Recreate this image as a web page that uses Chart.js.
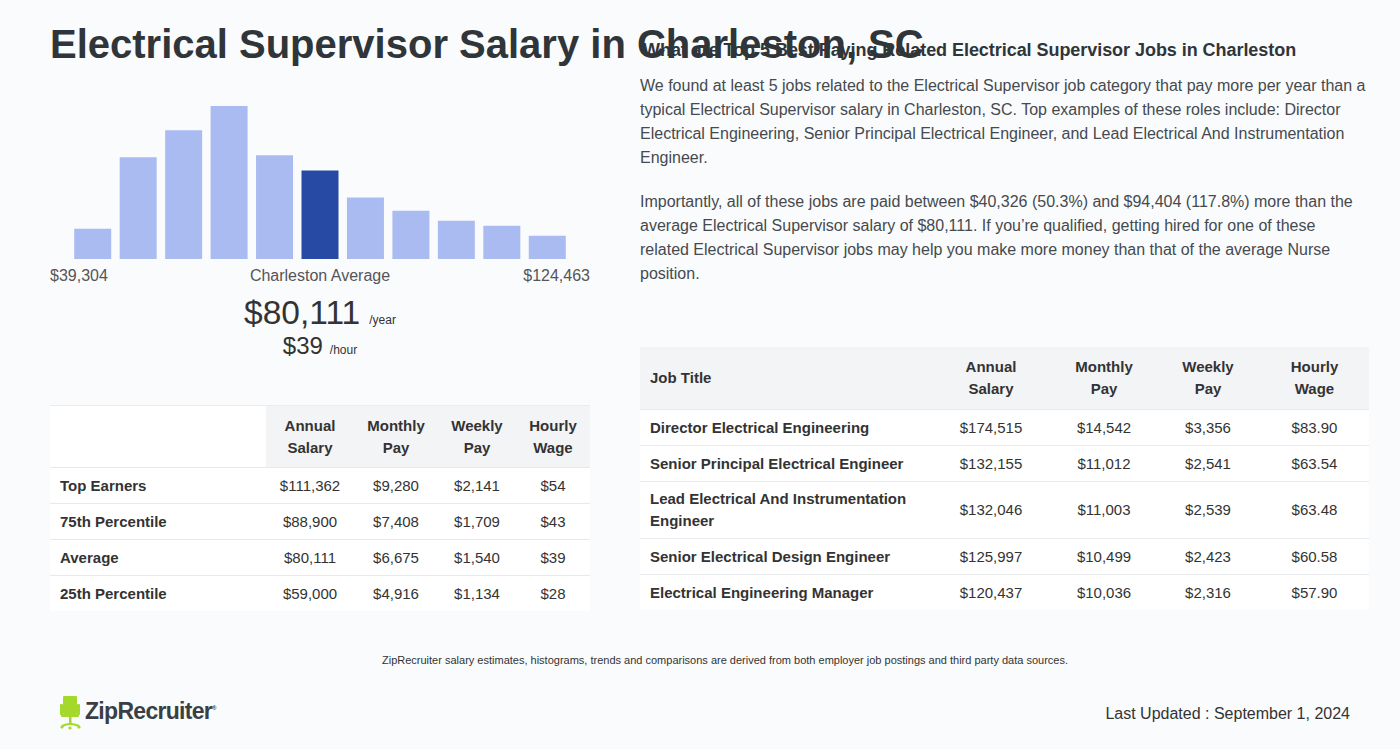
<!DOCTYPE html>
<html>
<head>
<meta charset="utf-8">
<script src="https://cdn.jsdelivr.net/npm/chart.js@4/dist/chart.umd.min.js"></script>
<style>
  html,body{margin:0;padding:0;}
  body{width:1400px;height:749px;background:#fafbfd;font-family:"Liberation Sans",Arial,sans-serif;position:relative;overflow:hidden;color:#333;}
  .abs{position:absolute;}
  #title{left:50px;top:18px;font-size:40px;font-weight:bold;color:#2f3539;white-space:nowrap;line-height:52px;}
  #rhead{left:643px;top:38px;font-size:18px;font-weight:bold;color:#2f3539;white-space:nowrap;line-height:24px;letter-spacing:-0.05px;}
  .para{left:640px;width:727px;font-size:16px;line-height:24px;color:#454a4e;}
  #chartBox{left:50px;top:100px;width:540px;height:160px;}
  .lbl{font-size:16px;color:#555;top:266px;line-height:20px;}
  table{border-collapse:collapse;font-size:15px;color:#333;table-layout:fixed;}
  td,th{padding:0;}
  #ltab{left:50px;top:405px;width:540px;}
  #ltab th{font-weight:bold;background:#f3f4f6;height:61px;line-height:22px;text-align:center;}
  #ltab th.blank{background:#fff;}
  #ltab tr.hd{border-top:1px solid #ececec;}
  #ltab td{height:35px;background:#fff;border-top:1px solid #e8e9eb;text-align:center;}
  #ltab td.rl{text-align:left;padding-left:10px;font-weight:bold;}
  #rtab{left:640px;top:347px;width:729px;}
  #rtab th{font-weight:bold;background:#f3f4f6;height:62px;line-height:22px;text-align:center;}
  #rtab th.jt{text-align:left;padding-left:10px;}
  #rtab td{background:#fff;border-top:1px solid #e8e9eb;text-align:center;height:35px;line-height:22px;}
  #rtab td.rl{text-align:left;padding-left:10px;padding-right:20px;font-weight:bold;}
</style>
</head>
<body>
<div id="title" class="abs">Electrical Supervisor Salary in Charleston, SC</div>
<div id="rhead" class="abs">What are Top 5 Best Paying Related Electrical Supervisor Jobs in Charleston</div>
<div class="abs para" style="top:74px;">We found at least 5 jobs related to the Electrical Supervisor job category that pay more per year than a typical Electrical Supervisor salary in Charleston, SC. Top examples of these roles include: Director Electrical Engineering, Senior Principal Electrical Engineer, and Lead Electrical And Instrumentation Engineer.</div>
<div class="abs para" style="top:190px;">Importantly, all of these jobs are paid between $40,326 (50.3%) and $94,404 (117.8%) more than the average Electrical Supervisor salary of $80,111. If you’re qualified, getting hired for one of these related Electrical Supervisor jobs may help you make more money than that of the average Nurse position.</div>

<div id="chartBox" class="abs"><canvas id="hist"></canvas></div>
<div class="abs lbl" id="minLbl" style="left:50px;"></div>
<div class="abs lbl" style="left:50px;width:540px;text-align:center;">Charleston Average</div>
<div class="abs lbl" id="maxLbl" style="right:810px;"></div>

<div class="abs" style="left:50px;width:540px;top:292px;text-align:center;white-space:nowrap;">
  <span id="avgYear" style="font-size:33.5px;color:#333;line-height:42px;"></span><span style="font-size:12px;color:#333;margin-left:9px;">/year</span>
</div>
<div class="abs" style="left:50px;width:540px;top:330px;text-align:center;white-space:nowrap;">
  <span id="avgHour" style="font-size:24px;color:#333;line-height:31px;"></span><span style="font-size:12px;color:#333;margin-left:7px;">/hour</span>
</div>

<table id="ltab" class="abs"></table>
<table id="rtab" class="abs"></table>

<div class="abs" style="left:0;width:1450px;top:654px;text-align:center;font-size:11px;color:#333;">ZipRecruiter salary estimates, histograms, trends and comparisons are derived from both employer job postings and third party data sources.</div>

<div class="abs" style="left:59px;top:695px;">
  <svg width="24" height="36" viewBox="0 0 24 36">
    <rect x="4" y="1" width="14" height="18" rx="1" fill="#a4d82b"/>
    <rect x="1" y="9" width="3" height="11" rx="1" fill="#a4d82b"/>
    <rect x="18" y="9" width="3" height="11" rx="1" fill="#a4d82b"/>
    <rect x="2" y="19" width="18" height="3" rx="1" fill="#a4d82b"/>
    <rect x="10" y="22" width="2.5" height="8" fill="#a4d82b"/>
    <path d="M3 31 Q11 27 20 31" stroke="#a4d82b" stroke-width="2.2" fill="none"/>
    <circle cx="3" cy="32" r="1.6" fill="#a4d82b"/><circle cx="20" cy="32" r="1.6" fill="#a4d82b"/><circle cx="11" cy="33" r="1.6" fill="#a4d82b"/>
  </svg>
</div>
<div class="abs" style="left:85px;top:698px;font-size:23px;font-weight:bold;color:#3a3f44;letter-spacing:-0.7px;">ZipRecruiter<sup style="font-size:6px;">®</sup></div>

<div class="abs" style="right:50px;top:705px;font-size:16px;color:#333;">Last Updated : September 1, 2024</div>

<script>
// ---- Data ----
const histBins = ["$39,304","$47,046","$54,788","$62,530","$70,272","$78,014","$85,756","$93,498","$101,240","$108,982","$116,724"];
const histCounts = [30, 101, 128, 152, 103, 88, 61, 48, 38, 33, 23];
const avgBinIndex = 5;
const rangeMin = "$39,304";
const rangeMax = "$124,463";
const avgAnnual = "$80,111";
const avgHourly = "$39";

const pctHeaders = ["", "Annual<br>Salary", "Monthly<br>Pay", "Weekly<br>Pay", "Hourly<br>Wage"];
const pctLabels = ["Top Earners", "75th Percentile", "Average", "25th Percentile"];
const pctAnnual = ["$111,362", "$88,900", "$80,111", "$59,000"];
const pctMonthly = ["$9,280", "$7,408", "$6,675", "$4,916"];
const pctWeekly = ["$2,141", "$1,709", "$1,540", "$1,134"];
const pctHourly = ["$54", "$43", "$39", "$28"];

const jobHeaders = ["Job Title", "Annual<br>Salary", "Monthly<br>Pay", "Weekly<br>Pay", "Hourly<br>Wage"];
const jobTitles = ["Director Electrical Engineering", "Senior Principal Electrical Engineer", "Lead Electrical And Instrumentation Engineer", "Senior Electrical Design Engineer", "Electrical Engineering Manager"];
const jobAnnual = ["$174,515", "$132,155", "$132,046", "$125,997", "$120,437"];
const jobMonthly = ["$14,542", "$11,012", "$11,003", "$10,499", "$10,036"];
const jobWeekly = ["$3,356", "$2,541", "$2,539", "$2,423", "$2,316"];
const jobHourly = ["$83.90", "$63.54", "$63.48", "$60.58", "$57.90"];

// ---- Text ----
document.getElementById('minLbl').textContent = rangeMin;
document.getElementById('maxLbl').textContent = rangeMax;
document.getElementById('avgYear').textContent = avgAnnual;
document.getElementById('avgHour').textContent = avgHourly;

// ---- Tables ----
(function(){
  const lt = document.getElementById('ltab');
  const colW = [216, 88, 84, 78, 74];
  let h = '<colgroup>' + colW.map(w=>`<col style="width:${w}px">`).join('') + '</colgroup>';
  h += '<tr class="hd">' + pctHeaders.map((t,i)=>`<th class="${i===0?'blank':''}">${t}</th>`).join('') + '</tr>';
  pctLabels.forEach((l,i)=>{
    h += `<tr><td class="rl">${l}</td><td>${pctAnnual[i]}</td><td>${pctMonthly[i]}</td><td>${pctWeekly[i]}</td><td>${pctHourly[i]}</td></tr>`;
  });
  lt.innerHTML = h;

  const rt = document.getElementById('rtab');
  const rW = [290, 122, 104, 104, 109];
  let r = '<colgroup>' + rW.map(w=>`<col style="width:${w}px">`).join('') + '</colgroup>';
  r += '<tr>' + jobHeaders.map((t,i)=>`<th class="${i===0?'jt':''}">${t}</th>`).join('') + '</tr>';
  jobTitles.forEach((t,i)=>{
    const hh = t.length > 36 ? 56 : 35;
    r += `<tr style="height:${hh}px"><td class="rl" style="height:${hh}px">${t}</td><td style="height:${hh}px">${jobAnnual[i]}</td><td style="height:${hh}px">${jobMonthly[i]}</td><td style="height:${hh}px">${jobWeekly[i]}</td><td style="height:${hh}px">${jobHourly[i]}</td></tr>`;
  });
  rt.innerHTML = r;
})();

// ---- Histogram ----
const lightBar = '#aabbf1';
const darkBar = '#274ba4';
new Chart(document.getElementById('hist'), {
  type: 'bar',
  data: {
    labels: histBins,
    datasets: [{
      data: histCounts,
      backgroundColor: histCounts.map((_,i)=> i===avgBinIndex ? darkBar : lightBar),
      borderWidth: 0,
      barPercentage: 0.814,
      categoryPercentage: 1.0
    }]
  },
  options: {
    responsive: true,
    maintainAspectRatio: false,
    animation: false,
    layout: { padding: { left: 20, right: 20, top: 0, bottom: 1 } },
    plugins: { legend: { display: false }, tooltip: { enabled: false } },
    scales: {
      x: { display: false },
      y: { display: false, min: 0, max: 158 }
    }
  }
});
</script>
</body>
</html>
